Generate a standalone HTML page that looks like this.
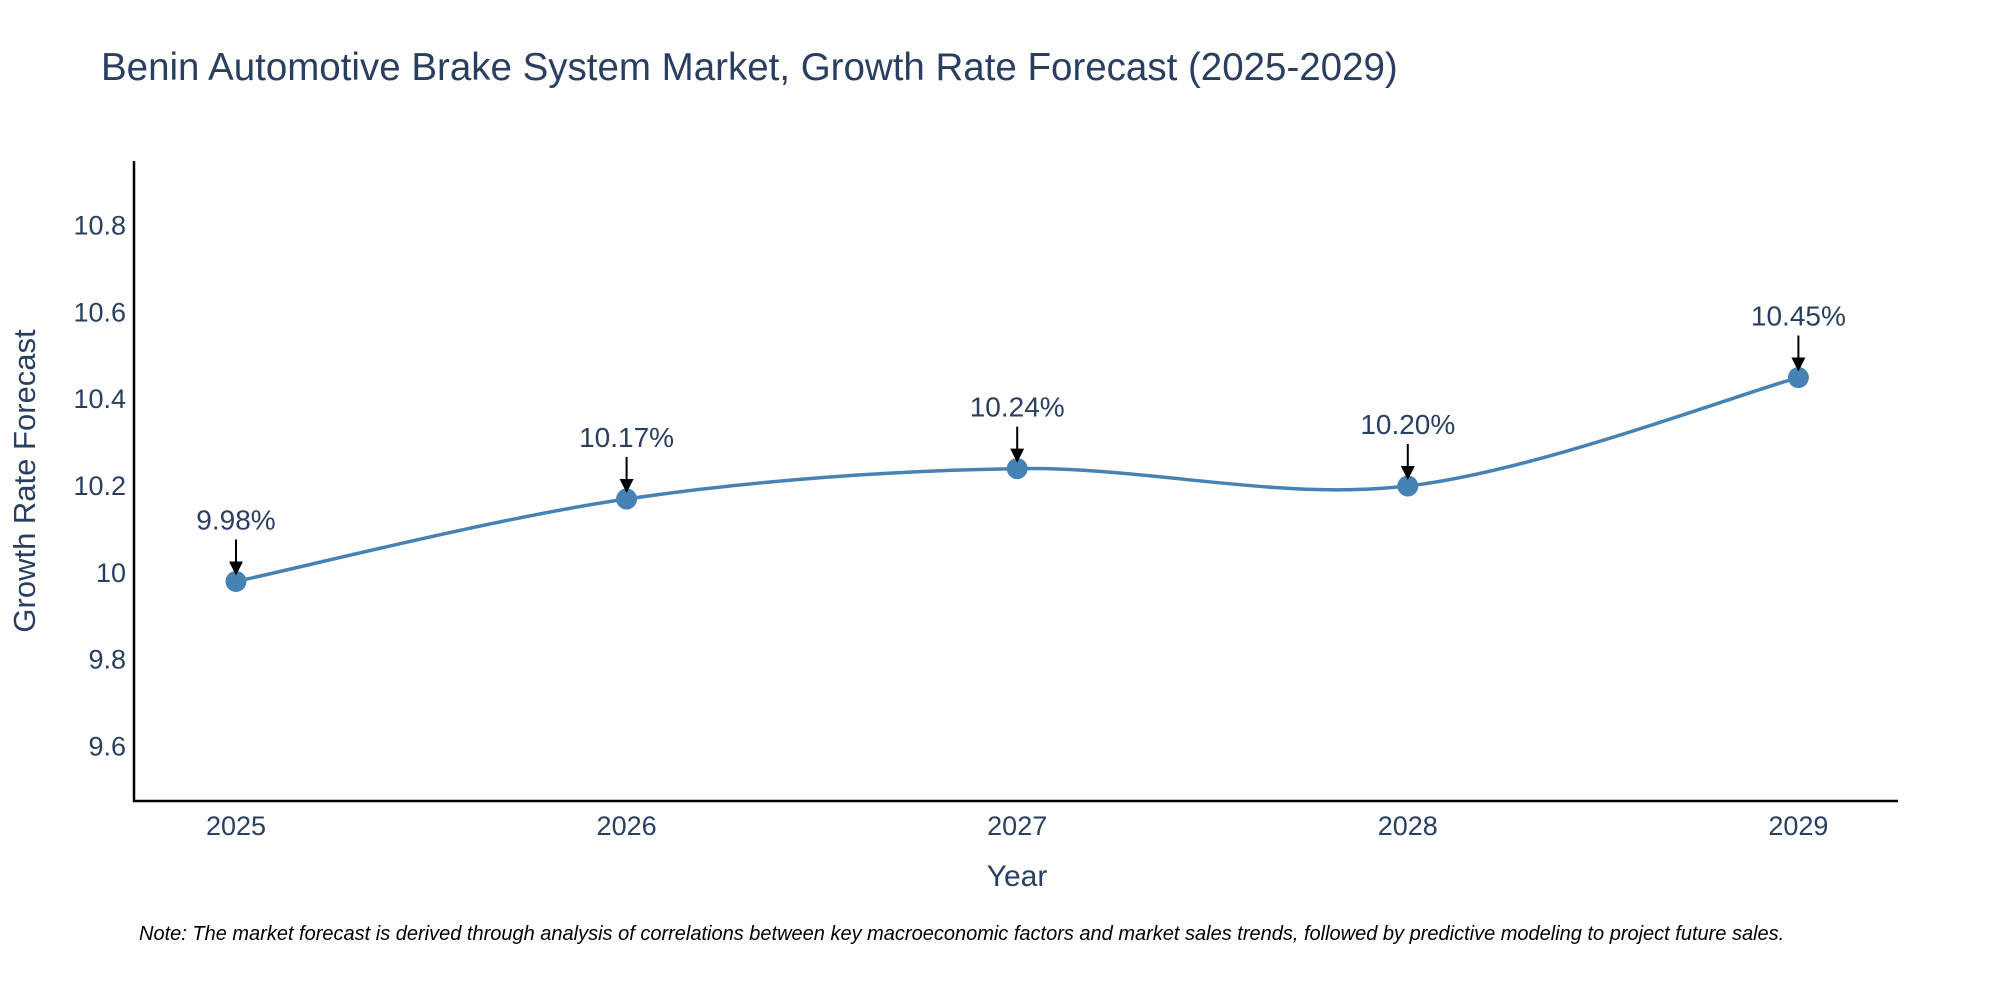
<!DOCTYPE html>
<html><head><meta charset="utf-8"><style>
body{margin:0;background:#fff;}
svg{display:block;font-family:"Liberation Sans",Arial,sans-serif;}
</style></head><body>
<svg id="chart" width="2000" height="1000" viewBox="0 0 2000 1000">
<text x="101" y="80" font-size="38.5" fill="#2a3f5f">Benin Automotive Brake System Market, Growth Rate Forecast (2025-2029)</text>
<g id="yticks"></g>
<g id="xticks"></g>
<line x1="134" y1="161" x2="134" y2="802" stroke="#000" stroke-width="2.5"/>
<line x1="133" y1="801" x2="1898" y2="801" stroke="#000" stroke-width="2.5"/>
<path id="line" fill="none" stroke="#4682b4" stroke-width="3.5"/>
<g id="points"></g>
<g id="annots"></g>
<text x="1017" y="886" font-size="30" fill="#2a3f5f" text-anchor="middle">Year</text>
<text transform="translate(35,481) rotate(-90)" font-size="31" fill="#2a3f5f" text-anchor="middle">Growth Rate Forecast</text>
<text x="139" y="940" font-size="20" font-style="italic" fill="#000">Note: The market forecast is derived through analysis of correlations between key macroeconomic factors and market sales trends, followed by predictive modeling to project future sales.</text>
</svg>
<script>
const years = [2025, 2026, 2027, 2028, 2029];
const rates = [9.98, 10.17, 10.24, 10.20, 10.45];
const yTickVals = [9.6, 9.8, 10, 10.2, 10.4, 10.6, 10.8];
const yTickLabels = ["9.6", "9.8", "10", "10.2", "10.4", "10.6", "10.8"];
const NS = "http://www.w3.org/2000/svg";
const yMin = 9.474, yMax = 10.949, pyBottom = 801, pyTop = 161;
const x = v => 236 + (v - 2025) * 390.6;
const y = v => pyBottom - (v - yMin) / (yMax - yMin) * (pyBottom - pyTop);
function mk(tag, attrs, parent){const e=document.createElementNS(NS,tag);for(const k in attrs)e.setAttribute(k,attrs[k]);parent.appendChild(e);return e;}
const yt = document.getElementById('yticks');
yTickVals.forEach((v,i)=>{
  const t = mk('text',{x:126,y:y(v)+9,'font-size':27,fill:'#2a3f5f','text-anchor':'end'},yt);
  t.textContent = yTickLabels[i];
  
  
});
const xt = document.getElementById('xticks');
years.forEach(v=>{
  const t = mk('text',{x:x(v),y:835,'font-size':27,fill:'#2a3f5f','text-anchor':'middle'},xt);
  t.textContent = String(v);
  
  
});
const P = years.map((v,i)=>[x(v), y(rates[i])]);
let d = `M${P[0][0]},${P[0][1]}`;
const s = 1/6;
for(let i=0;i<P.length-1;i++){
  const p0=P[Math.max(i-1,0)],p1=P[i],p2=P[i+1],p3=P[Math.min(i+2,P.length-1)];
  const c1=[p1[0]+(p2[0]-p0[0])*s, p1[1]+(p2[1]-p0[1])*s];
  const c2=[p2[0]-(p3[0]-p1[0])*s, p2[1]-(p3[1]-p1[1])*s];
  d+=` C${c1[0]},${c1[1]} ${c2[0]},${c2[1]} ${p2[0]},${p2[1]}`;
}
document.getElementById('line').setAttribute('d', d);
const pts = document.getElementById('points'), an = document.getElementById('annots');
P.forEach((p,i)=>{
  const c = mk('circle',{cx:p[0],cy:p[1],r:10.5,fill:'#4682b4'},pts);
  
  
  mk('line',{x1:p[0],y1:p[1]-42,x2:p[0],y2:p[1]-16,stroke:'#000','stroke-width':2},an);
  mk('path',{d:`M${p[0]-7},${p[1]-20} L${p[0]+7},${p[1]-20} L${p[0]},${p[1]-6} Z`,fill:'#000'},an);
  const t = mk('text',{x:p[0],y:p[1]-52,'font-size':28,fill:'#2a3f5f','text-anchor':'middle'},an);
  t.textContent = rates[i].toFixed(2)+'%';
  
  
});
</script>
</body></html>
